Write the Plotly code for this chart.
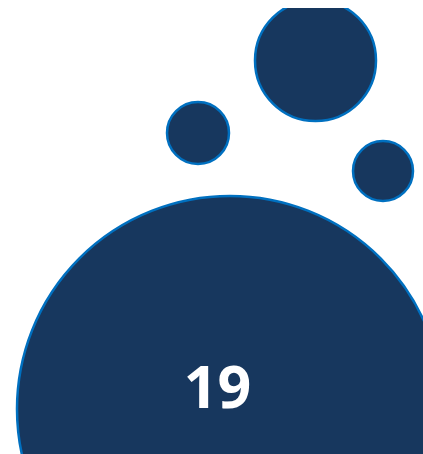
import plotly.graph_objects as go

# Bubble data (x, y in chart units; size = bubble diameter)
bubble_x = [230, 198, 315.5, 383]
bubble_y = [45, 321, 393.5, 283]
bubble_size = [426, 62, 121, 60]
label_text = ["19"]
label_x = [217.5]
label_y = [61]

fill_color = "#17375E"
edge_color = "#0070C0"

fig = go.Figure()
fig.add_trace(go.Scatter(
    x=bubble_x, y=bubble_y, mode="markers",
    marker=dict(size=bubble_size, sizemode="diameter", color=fill_color,
                opacity=1, line=dict(color=edge_color, width=2.5)),
    cliponaxis=True, hoverinfo="skip", showlegend=False,
))
fig.add_trace(go.Scatter(
    x=label_x, y=label_y, mode="text", text=label_text,
    textposition="middle center",
    textfont=dict(family="Open Sans", size=59, color="white", weight="bold"),
    hoverinfo="skip", showlegend=False,
))
fig.update_layout(
    width=423, height=454,
    margin=dict(l=0, r=0, t=8, b=0),
    paper_bgcolor="white", plot_bgcolor="white",
    xaxis=dict(range=[0, 423], visible=False, fixedrange=True),
    yaxis=dict(range=[0, 446], visible=False, fixedrange=True),
)
fig.write_html(
    "out.html",
    config={"displayModeBar": False},
    post_script="document.body.style.margin='0';document.body.style.overflow='hidden';document.documentElement.style.overflow='hidden';",
)
